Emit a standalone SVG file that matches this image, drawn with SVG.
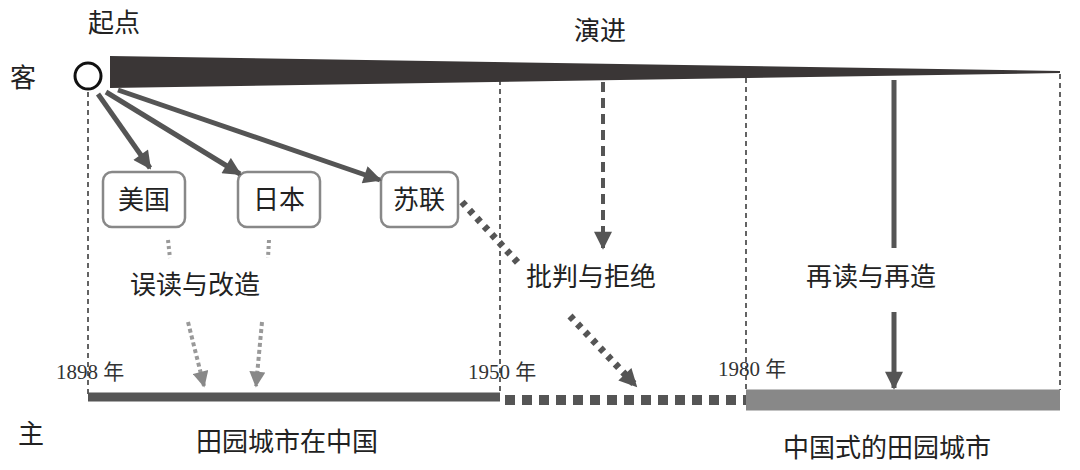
<svg xmlns="http://www.w3.org/2000/svg" width="1080" height="470" viewBox="0 0 1080 470">
<style>
.t{font-family:"Noto Sans CJK SC","Liberation Sans",sans-serif;fill:#222;font-size:26px}
.s{font-family:"Liberation Serif","Noto Sans CJK SC",serif;fill:#333;font-size:21px}
.box{fill:#fff;stroke:#888;stroke-width:2.5}
.vd{stroke:#222;stroke-width:1.4;stroke-dasharray:5,4}
</style>
<defs>
<marker id="ah" viewBox="0 0 10 10" refX="9" refY="5" markerUnits="userSpaceOnUse" markerWidth="20" markerHeight="18" orient="auto"><path d="M0,0 L10,5 L0,10z" fill="#555"/></marker>
<marker id="ag" viewBox="0 0 10 10" refX="9" refY="5" markerUnits="userSpaceOnUse" markerWidth="18" markerHeight="16" orient="auto"><path d="M0,0 L10,5 L0,10z" fill="#888"/></marker>
</defs>
<rect width="1080" height="470" fill="#fff"/>
<g id="guides">
<line class="vd" x1="88" y1="92" x2="88" y2="395"/>
<line class="vd" x1="500" y1="80" x2="500" y2="395"/>
<line class="vd" x1="746" y1="78" x2="746" y2="390"/>
<line class="vd" x1="1060" y1="74" x2="1060" y2="390"/>
</g>
<g id="evolution"><polygon points="110,56 1060,71 1060,73 110,88" fill="#3a3636"/></g>
<g id="start"><circle cx="88" cy="76" r="13" fill="#fff" stroke="#111" stroke-width="3"/></g>
<g id="labels">
<text class="t" x="10" y="87">客</text>
<text class="t" x="18" y="443">主</text>
<text class="t" x="88" y="32">起点</text>
<text class="t" x="574" y="40">演进</text>
<text class="t" x="130" y="294">误读与改造</text>
<text class="t" x="526" y="286">批判与拒绝</text>
<text class="t" x="806" y="286">再读与再造</text>
<text class="t" x="196" y="451">田园城市在中国</text>
<text class="t" x="783" y="457">中国式的田园城市</text>
<text class="s" x="56" y="379">1898 年</text>
<text class="s" x="468" y="379">1950 年</text>
<text class="s" x="718" y="376">1980 年</text>
</g>
<g id="node-us"><rect class="box" x="103" y="172" width="82" height="55" rx="9"/><text class="t" x="118" y="209">美国</text></g>
<g id="node-jp"><rect class="box" x="238" y="172" width="82" height="55" rx="9"/><text class="t" x="253" y="209">日本</text></g>
<g id="node-su"><rect class="box" x="381" y="172" width="77" height="55" rx="9"/><text class="t" x="393" y="209">苏联</text></g>
<g id="timeline">
<line x1="88" y1="397" x2="500" y2="397" stroke="#555" stroke-width="9"/>
<line x1="505" y1="400" x2="746" y2="400" stroke="#555" stroke-width="10" stroke-dasharray="10,7"/>
<line x1="746" y1="400" x2="1060" y2="400" stroke="#888" stroke-width="21"/>
</g>
<g id="connectors" fill="none">
<line x1="98" y1="94" x2="150" y2="168" stroke="#555" stroke-width="5" marker-end="url(#ah)"/>
<line x1="106" y1="92" x2="240" y2="174" stroke="#555" stroke-width="5" marker-end="url(#ah)"/>
<line x1="118" y1="90" x2="380" y2="180" stroke="#555" stroke-width="5" marker-end="url(#ah)"/>
<line x1="168" y1="240" x2="170" y2="258" stroke="#999" stroke-width="4" stroke-dasharray="3,3"/>
<line x1="269" y1="240" x2="268" y2="258" stroke="#999" stroke-width="4" stroke-dasharray="3,3"/>
<line x1="188" y1="322" x2="204" y2="386" stroke="#999" stroke-width="4" stroke-dasharray="4,3" marker-end="url(#ag)"/>
<line x1="262" y1="322" x2="256" y2="386" stroke="#999" stroke-width="4" stroke-dasharray="4,3" marker-end="url(#ag)"/>
<line x1="462" y1="202" x2="520" y2="265" stroke="#555" stroke-width="7" stroke-dasharray="5,6"/>
<line x1="570" y1="316" x2="636" y2="386" stroke="#555" stroke-width="7" stroke-dasharray="5,6" marker-end="url(#ah)"/>
<line x1="603" y1="82" x2="603" y2="248" stroke="#555" stroke-width="4" stroke-dasharray="10,6" marker-end="url(#ah)"/>
<line x1="894" y1="80" x2="894" y2="248" stroke="#555" stroke-width="5"/>
<line x1="894" y1="312" x2="894" y2="388" stroke="#555" stroke-width="5" marker-end="url(#ah)"/>
</g>
</svg>
